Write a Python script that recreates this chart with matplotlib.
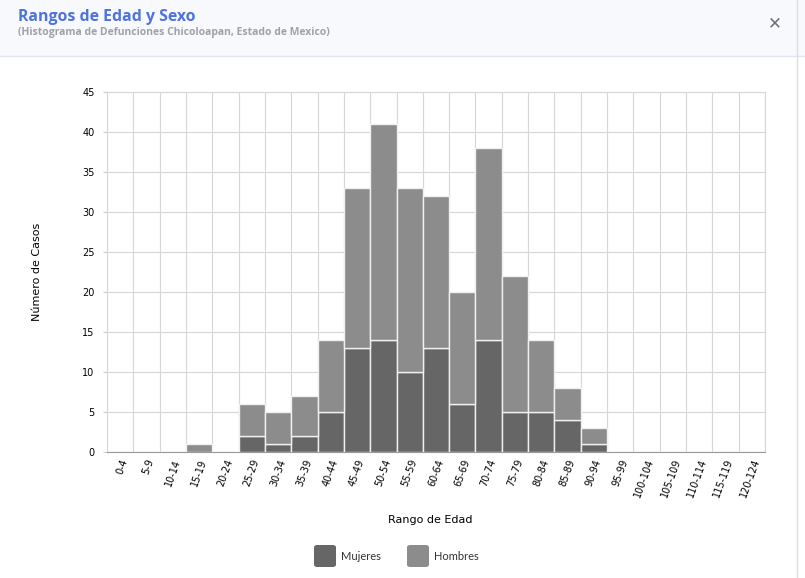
import matplotlib.pyplot as plt
from matplotlib.patches import FancyBboxPatch, Rectangle
import numpy as np

# data
rangos = ["0-4", "5-9", "10-14", "15-19", "20-24", "25-29", "30-34", "35-39",
          "40-44", "45-49", "50-54", "55-59", "60-64", "65-69", "70-74", "75-79",
          "80-84", "85-89", "90-94", "95-99", "100-104", "105-109", "110-114",
          "115-119", "120-124"]
mujeres = [0, 0, 0, 0, 0, 2, 1, 2, 5, 13, 14, 10, 13, 6, 14, 5, 5, 4, 1,
           0, 0, 0, 0, 0, 0]
hombres = [0, 0, 0, 1, 0, 4, 4, 5, 9, 20, 27, 23, 19, 14, 24, 17, 9, 4, 2,
           0, 0, 0, 0, 0, 0]

fig = plt.figure(figsize=(8.05, 5.78), dpi=100, facecolor="white")

# header band
fig.patches.append(Rectangle((0, 1 - 56 / 578), 1, 56 / 578, transform=fig.transFigure,
                             facecolor="#f8f9fc", edgecolor="none", zorder=0))
fig.lines.append(plt.Line2D([0, 1], [1 - 56 / 578] * 2, transform=fig.transFigure,
                            color="#e3e6f0", lw=1))
fig.lines.append(plt.Line2D([797 / 805] * 2, [0, 1], transform=fig.transFigure,
                            color="#dddfe6", lw=1))
fig.text(18 / 805, 1 - 17 / 578, "Rangos de Edad y Sexo", color="#4e73df",
         fontsize=11.4, fontweight="bold", family="Open Sans", va="center")
fig.text(18 / 805, 1 - 32 / 578, "(Histograma de Defunciones Chicoloapan, Estado de Mexico)",
         color="#a0a1a8", fontsize=7.5, fontweight="bold", family="Open Sans", va="center")
fig.text(775 / 805, 1 - 23 / 578, "✕", color="#6e707e", fontsize=12, fontweight="heavy",
         ha="center", va="center")

ax = fig.add_axes([107 / 805, 126 / 578, 658 / 805, 360 / 578])
x = np.arange(len(rangos))
ax.bar(x, mujeres, width=1.0, color="#666666", edgecolor="#f0f0f0", lw=1, zorder=3)
ax.bar(x, hombres, bottom=mujeres, width=1.0, color="#8c8c8c", edgecolor="#f0f0f0",
       lw=1, zorder=3)

ax.set_xlim(-0.5, len(rangos) - 0.5)
ax.set_ylim(0, 45)
ax.set_yticks(range(0, 46, 5))
ax.set_xticks(x)
ax.set_xticklabels(rangos, rotation=70, ha="right", rotation_mode="anchor", fontsize=7)
ax.tick_params(axis="y", labelsize=7, length=3, color="#cccccc", pad=6)
ax.tick_params(axis="x", length=0, pad=4)
ax.set_xticks(np.arange(-0.5, len(rangos)), minor=True)
ax.tick_params(axis="x", which="minor", length=0)
ax.grid(which="minor", axis="x", color="#d6d6d6", lw=0.8, zorder=0)
ax.grid(which="major", axis="y", color="#d6d6d6", lw=0.8, zorder=0)
for s in ["top", "right", "left"]:
    ax.spines[s].set_color("#d6d6d6")
    ax.spines[s].set_linewidth(0.8)
ax.spines["bottom"].set_color("#999999")

ax.set_ylabel("Número de Casos", fontsize=8)
ax.yaxis.set_label_coords(-65 / 658, 0.5)
fig.text(430 / 805, 1 - 520 / 578, "Rango de Edad", fontsize=8, ha="center", va="center")

# legend
for px, lbl, col in [(314, "Mujeres", "#666666"), (407, "Hombres", "#8c8c8c")]:
    fig.patches.append(FancyBboxPatch((px / 805, 1 - 567 / 578), 22 / 805, 22 / 578,
                                      boxstyle="round,pad=0,rounding_size=0.004",
                                      transform=fig.transFigure, facecolor=col,
                                      edgecolor="none"))
    fig.text((px + 27) / 805, 1 - 557 / 578, lbl, fontsize=8, family="Lato",
             va="center", color="#333333")

fig.savefig("out.png", dpi=100)
